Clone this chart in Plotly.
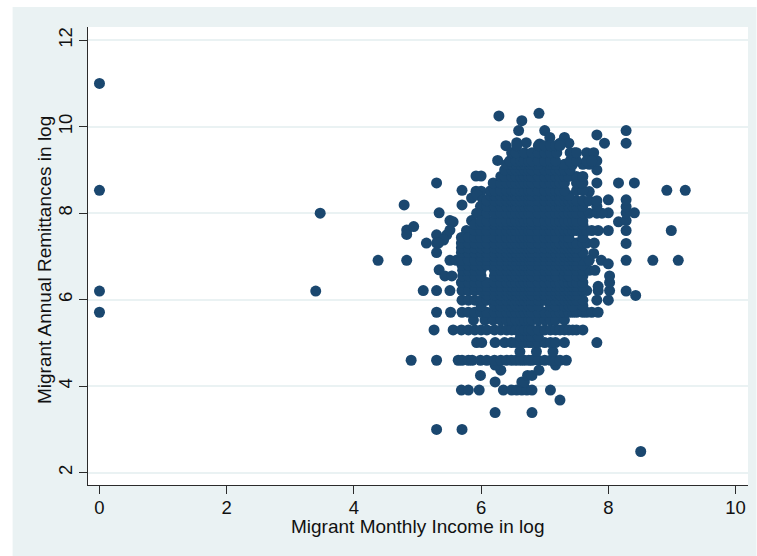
import plotly.graph_objects as go

# Outlying and sparse observations: (income, remittance)
sparse_income = [0, 0, 0, 0, 3.47, 3.40, 4.38, 4.83, 4.79, 4.83, 4.83, 4.94, 5.14, 5.30, 5.30, 5.30, 5.34, 5.34,
                 5.70, 5.70, 5.51, 5.56, 5.46, 5.41, 5.33, 5.51, 5.77, 5.85, 5.92, 6.00, 5.92, 6.00, 5.85, 5.94, 6.03, 5.99,
                 6.28, 6.64, 6.91, 6.59, 7.00, 7.31, 7.38, 6.39, 6.56, 6.71, 6.92, 7.08, 7.24, 6.26,
                 8.51, 5.30, 5.70, 8.43, 8.28, 8.28, 8.70, 9.10, 8.28, 8.99, 8.00, 8.28, 8.16, 8.28, 8.41, 8.28, 8.28, 8.28,
                 8.00, 8.00, 8.16, 8.41, 8.92, 9.21, 7.82, 7.82, 7.66, 7.77, 7.47, 7.82, 7.94, 8.28, 8.28,
                 7.89, 8.00, 7.77, 7.84, 7.82, 7.60, 7.70, 5.99, 5.93]
sparse_remit = [11.00, 8.53, 6.20, 5.71, 8.00, 6.20, 6.91, 6.91, 8.19, 7.61, 7.51, 7.69, 7.31, 8.70, 7.50, 7.31, 8.01, 6.69,
                8.53, 8.19, 7.83, 7.80, 7.50, 7.38, 7.31, 7.61, 7.60, 7.83, 8.86, 8.86, 8.51, 8.51, 8.35, 8.42, 8.31, 8.01,
                10.25, 10.14, 10.31, 9.91, 9.91, 9.75, 9.62, 9.56, 9.63, 9.63, 9.60, 9.75, 9.62, 9.22,
                2.49, 3.00, 3.00, 6.10, 6.20, 6.91, 6.91, 6.91, 7.30, 7.60, 7.60, 7.60, 7.80, 7.83, 8.01, 8.01, 8.15, 8.31,
                8.31, 8.01, 8.70, 8.70, 8.53, 8.53, 9.00, 9.21, 9.40, 9.40, 9.40, 9.81, 9.62, 9.91, 9.62,
                6.91, 6.83, 7.07, 7.60, 8.70, 8.70, 8.50, 8.16, 8.00]

# Income values recorded at each remittance level
income_at_3_39 = [6.22, 6.80]
income_at_3_68 = [7.24]
income_at_3_91 = [5.69, 5.80, 5.97, 6.35, 6.48, 6.56, 6.64, 6.72, 6.80, 7.09]
income_at_4_10 = [6.22, 6.64, 6.68]
income_at_4_25 = [5.99, 6.73, 6.80]
income_at_4_37 = [6.31, 6.91]
income_at_4_49 = [6.22, 7.17]
income_at_4_60 = [4.90, 5.30, 5.64, 5.70, 5.80, 5.86, 5.99, 6.09, 6.21, 6.31, 6.40, 6.48, 6.55, 6.62, 6.68, 6.75, 6.80,
                  6.90, 7.00, 7.09, 7.17, 7.24, 7.34]
income_at_4_80 = [6.61, 6.87, 7.13]
income_at_5_01 = [5.93, 6.01, 6.22, 6.37, 6.48, 6.55, 6.62, 6.68, 6.75, 6.80, 6.90, 7.00, 7.09, 7.17, 7.31, 7.82]
income_at_5_15 = [6.62, 6.68, 6.75, 6.80, 6.90]
income_at_5_30 = [5.26, 5.56, 5.69, 5.80, 5.90, 6.00, 6.09, 6.21, 6.31, 6.40, 6.48, 6.55, 6.62, 6.68, 6.75, 6.80, 6.90,
                  7.00, 7.09, 7.17, 7.24, 7.31, 7.38, 7.44, 7.50, 7.60]
income_at_5_53 = [5.88, 6.06, 6.19, 6.31, 6.40, 6.48, 6.55, 6.62, 6.68, 6.75, 6.80, 6.90, 7.00, 7.09, 7.17, 7.31]
income_at_5_71 = [5.30, 5.52, 5.70, 5.80, 5.90, 6.00, 6.09, 6.21, 6.31, 6.40, 6.48, 6.55, 6.62, 6.68, 6.75, 6.80, 6.90,
                  7.00, 7.09, 7.17, 7.24, 7.31, 7.38, 7.44, 7.50, 7.60, 7.66, 7.74, 7.84]
income_at_5_86 = [6.00, 6.21, 6.31, 6.40, 6.48, 6.55, 6.62, 6.68, 6.75, 6.80, 6.90, 7.09, 7.17, 7.31, 7.38, 7.44, 7.60]
income_at_5_99 = [5.70, 5.80, 5.90, 6.00, 6.09, 6.21, 6.31, 6.40, 6.48, 6.55, 6.62, 6.68, 6.75, 6.80, 6.90, 7.00, 7.09,
                  7.17, 7.24, 7.31, 7.38, 7.44, 7.50, 7.60, 7.82, 8.00]
income_at_6_11 = [6.09, 6.21, 6.31, 6.40, 6.48, 6.55, 6.62, 6.68, 6.75, 6.80, 6.90, 7.00, 7.09, 7.17, 7.24, 7.31, 7.38,
                  7.44, 7.50]
income_at_6_21 = [5.09, 5.30, 5.51, 5.70, 5.80, 5.90, 6.00, 6.09, 6.21, 6.31, 6.40, 6.48, 6.55, 6.62, 6.68, 6.75, 6.80,
                  6.90, 7.00, 7.09, 7.17, 7.24, 7.31, 7.38, 7.44, 7.50, 7.60, 7.66, 7.84, 8.02]
income_at_6_31 = [5.90, 6.00, 6.09, 6.21, 6.31, 6.40, 6.48, 6.55, 6.62, 6.68, 6.75, 6.80, 6.90, 7.00, 7.09, 7.17, 7.24,
                  7.31, 7.38, 7.44, 7.50, 7.60, 7.84]
income_at_6_40 = [5.69, 5.80, 5.90, 6.00, 6.09, 6.21, 6.31, 6.40, 6.48, 6.55, 6.62, 6.68, 6.75, 6.80, 6.90, 7.00, 7.09,
                  7.17, 7.24, 7.31, 7.38, 7.44, 7.50, 7.60, 8.02]
income_at_6_55 = [5.43, 5.54, 5.71, 5.80, 5.90, 6.00, 6.21, 6.31, 6.40, 6.48, 6.55, 6.62, 6.68, 6.75, 6.80, 6.90,
                  7.00, 7.09, 7.17, 7.31, 7.38, 7.50, 7.60, 8.02]
income_at_6_68 = [5.71, 5.80, 5.90, 6.00, 6.21, 6.31, 6.40, 6.48, 6.55, 6.62, 6.68, 6.75, 6.80, 6.90, 7.00, 7.09,
                  7.17, 7.31, 7.38, 7.50, 7.60, 7.70, 7.79]
income_at_6_80 = [5.70, 5.80, 5.90, 6.00, 6.09, 6.21, 6.31, 6.40, 6.48, 6.55, 6.62, 6.68, 6.75, 6.80, 6.90, 7.00, 7.09,
                  7.17, 7.24, 7.31, 7.38, 7.44, 7.50, 7.60]
income_at_6_91 = [5.51, 5.61, 5.69, 5.80, 5.90, 6.00, 6.09, 6.21, 6.31, 6.40, 6.48, 6.55, 6.62, 6.68, 6.75, 6.80, 6.90,
                  7.00, 7.09, 7.17, 7.24, 7.31, 7.38, 7.44, 7.50, 7.60, 7.70]
income_at_7_00 = [6.00, 6.09, 6.21, 6.31, 6.40, 6.48, 6.55, 6.62, 6.68, 6.75, 6.80, 6.90, 7.00, 7.09, 7.17, 7.24, 7.31,
                  7.38, 7.44, 7.50]
income_at_7_09 = [5.30, 5.69, 5.80, 5.90, 6.00, 6.09, 6.21, 6.31, 6.40, 6.48, 6.55, 6.62, 6.68, 6.75, 6.80, 6.90, 7.00,
                  7.09, 7.17, 7.24, 7.31, 7.38, 7.44, 7.50, 7.60]
income_at_7_20 = [5.69, 5.80, 5.90, 6.00, 6.09, 6.21, 6.31, 6.40, 6.48, 6.55, 6.62, 6.68, 6.75, 6.80, 6.90, 7.00, 7.09,
                  7.17, 7.24, 7.31, 7.38, 7.44, 7.50]
income_at_7_31 = [5.69, 5.80, 5.90, 6.00, 6.09, 6.21, 6.31, 6.40, 6.48, 6.55, 6.62, 6.68, 6.75, 6.80, 6.90, 7.00, 7.09,
                  7.17, 7.24, 7.31, 7.38, 7.44, 7.50, 7.60, 7.66, 7.78]
income_at_7_44 = [5.69, 5.80, 5.90, 6.00, 6.09, 6.21, 6.31, 6.40, 6.48, 6.55, 6.62, 6.68, 6.75, 6.80, 6.90, 7.00, 7.09,
                  7.17, 7.31, 7.38, 7.60]
income_at_7_60 = [5.90, 6.00, 6.09, 6.21, 6.31, 6.40, 6.48, 6.55, 6.62, 6.68, 6.75, 6.80, 6.90, 7.00, 7.09, 7.17, 7.24,
                  7.31, 7.38, 7.44, 7.50, 7.60, 7.66, 7.74]
income_at_7_74 = [5.90, 6.00, 6.09, 6.21, 6.31, 6.40, 6.48, 6.55, 6.62, 6.68, 6.75, 6.80, 6.90, 7.00, 7.09, 7.17, 7.24,
                  7.31, 7.38, 7.44, 7.50, 7.60]
income_at_7_82 = [6.00, 6.09, 6.21, 6.31, 6.40, 6.48, 6.55, 6.62, 6.68, 6.75, 6.80, 6.90, 7.00, 7.09, 7.17, 7.24, 7.31,
                  7.38, 7.44, 7.50, 7.60]
income_at_8_00 = [6.09, 6.21, 6.31, 6.40, 6.48, 6.55, 6.62, 6.68, 6.75, 6.80, 6.90, 7.00, 7.09, 7.17, 7.24, 7.31, 7.38,
                  7.44, 7.50, 7.60, 7.70, 7.82, 7.90]
income_at_8_16 = [6.09, 6.21, 6.31, 6.40, 6.48, 6.55, 6.62, 6.68, 6.75, 6.80, 6.90, 7.00, 7.09, 7.17, 7.24, 7.31, 7.38,
                  7.44, 7.50, 7.60, 7.82]
income_at_8_29 = [6.09, 6.21, 6.31, 6.40, 6.48, 6.55, 6.62, 6.68, 6.75, 6.80, 6.90, 7.00, 7.09, 7.17, 7.24, 7.31, 7.38,
                  7.44, 7.50, 7.60, 7.70, 7.82]
income_at_8_41 = [6.15, 6.21, 6.31, 6.40, 6.48, 6.55, 6.62, 6.68, 6.75, 6.80, 6.90, 7.00, 7.09, 7.17, 7.24, 7.31, 7.38]
income_at_8_52 = [6.15, 6.21, 6.31, 6.40, 6.48, 6.55, 6.62, 6.68, 6.75, 6.80, 6.90, 7.00, 7.09, 7.17, 7.24, 7.31, 7.50,
                  7.60]
income_at_8_70 = [6.19, 6.31, 6.40, 6.48, 6.55, 6.62, 6.68, 6.75, 6.80, 6.90, 7.00, 7.09, 7.17, 7.24, 7.31, 7.50, 7.58]
income_at_8_85 = [6.31, 6.37, 6.48, 6.55, 6.62, 6.68, 6.75, 6.80, 6.90, 7.00, 7.09, 7.17, 7.24, 7.31, 7.38, 7.50, 7.60]
income_at_9_00 = [6.37, 6.48, 6.55, 6.62, 6.68, 6.75, 6.80, 6.90, 7.00, 7.09, 7.17, 7.24, 7.31, 7.40]
income_at_9_13 = [6.40, 6.48, 6.55, 6.62, 6.68, 6.75, 6.80, 6.90, 7.09, 7.17, 7.31, 7.44, 7.60, 7.70]
income_at_9_21 = [6.45, 6.55, 6.62, 6.68, 6.75, 6.80, 6.90, 7.00, 7.09, 7.17, 7.40, 7.50, 7.66, 7.74]
income_at_9_40 = [6.48, 6.55, 6.68, 6.80, 6.90, 7.00, 7.09, 7.19, 7.40, 7.50]
income_at_9_56 = [6.56, 6.90, 7.00, 7.09, 7.17, 7.24]

remittance_levels = [3.39, 3.68, 3.91, 4.10, 4.25, 4.37, 4.49, 4.60, 4.80, 5.01, 5.15, 5.30, 5.53, 5.71, 5.86, 5.99,
                     6.11, 6.21, 6.31, 6.40, 6.55, 6.68, 6.80, 6.91, 7.00, 7.09, 7.20, 7.31, 7.44, 7.60, 7.74, 7.82,
                     8.00, 8.16, 8.29, 8.41, 8.52, 8.70, 8.85, 9.00, 9.13, 9.21, 9.40, 9.56]
income_rows = [income_at_3_39, income_at_3_68, income_at_3_91, income_at_4_10, income_at_4_25, income_at_4_37,
               income_at_4_49, income_at_4_60, income_at_4_80, income_at_5_01, income_at_5_15, income_at_5_30,
               income_at_5_53, income_at_5_71, income_at_5_86, income_at_5_99, income_at_6_11, income_at_6_21,
               income_at_6_31, income_at_6_40, income_at_6_55, income_at_6_68, income_at_6_80, income_at_6_91,
               income_at_7_00, income_at_7_09, income_at_7_20, income_at_7_31, income_at_7_44, income_at_7_60,
               income_at_7_74, income_at_7_82, income_at_8_00, income_at_8_16, income_at_8_29, income_at_8_41,
               income_at_8_52, income_at_8_70, income_at_8_85, income_at_9_00, income_at_9_13, income_at_9_21,
               income_at_9_40, income_at_9_56]

x_ticks = [0, 2, 4, 6, 8, 10]
y_ticks = [2, 4, 6, 8, 10, 12]
x_label = "Migrant Monthly Income in log"
y_label = "Migrant Annual Remittances in log"

income = list(sparse_income)
remit = list(sparse_remit)
for level, row in zip(remittance_levels, income_rows):
    income.extend(row)
    remit.extend([level] * len(row))

W, H = 757, 556
L, R, T, B = 87.5, 748.5, 27.0, 485.0
PW, PH = R - L, B - T
BG = "#eaf2f3"
NAVY = "#1a476f"
FONT = "Liberation Sans"
INK = "#111111"

fig = go.Figure(go.Scatter(x=income, y=remit, mode="markers",
                           marker=dict(color=NAVY, size=11, line=dict(width=0)),
                           showlegend=False, cliponaxis=False))

axis_common = dict(
    showline=True, linecolor="#2b2b2b", linewidth=1,
    ticks="outside", ticklen=8, tickwidth=1, tickcolor="#2b2b2b",
    tickfont=dict(family=FONT, size=18.5, color=INK),
    zeroline=False,
)
fig.update_xaxes(range=[(L - 99) / 63.7, (R - 99) / 63.7], tickmode="array", tickvals=x_ticks,
                 showgrid=False, ticklabelstandoff=-2, **axis_common)
fig.update_yaxes(range=[2 + (472.7 - B) / 43.25, 2 + (472.7 - T) / 43.25], tickmode="array", tickvals=y_ticks,
                 tickangle=-90, showgrid=True, gridcolor=BG, gridwidth=1.5, **axis_common)

fig.update_layout(
    width=W, height=H, autosize=False,
    margin=dict(l=L, r=W - R, t=T, b=H - B, pad=0),
    paper_bgcolor="white", plot_bgcolor="white",
    shapes=[
        dict(type="rect", xref="paper", yref="paper", layer="below", line=dict(width=0), fillcolor=BG,
             x0=(12 - L) / PW, x1=(W - L) / PW, y0=(B - H) / PH, y1=(B - 7) / PH),
        dict(type="rect", xref="paper", yref="paper", layer="below", line=dict(width=0), fillcolor="white",
             x0=0, x1=1, y0=0, y1=1),
    ],
    annotations=[
        dict(text=x_label, xref="paper", yref="paper", x=(417.5 - L) / PW, y=(B - 526) / PH,
             xanchor="center", yanchor="middle", showarrow=False, font=dict(family=FONT, size=19, color=INK)),
        dict(text=y_label, xref="paper", yref="paper", x=(44 - L) / PW, y=(B - 260.5) / PH, textangle=-90,
             xanchor="center", yanchor="middle", showarrow=False, font=dict(family=FONT, size=19, color=INK)),
    ],
)

fig.write_html("out.html", config=dict(displayModeBar=False),
               post_script="document.body.style.margin='0';document.documentElement.style.overflow='hidden';")
